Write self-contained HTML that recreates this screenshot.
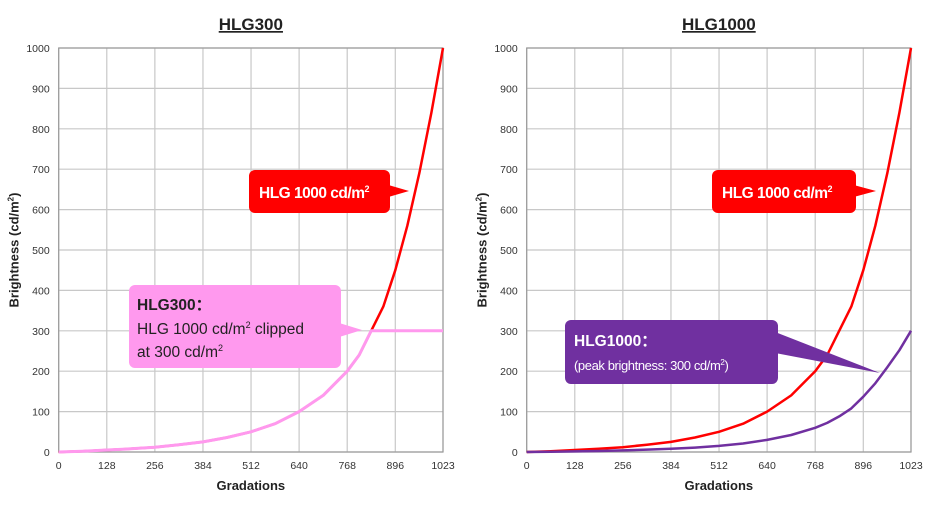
<!DOCTYPE html>
<html><head><meta charset="utf-8"><style>
body{margin:0;background:#fff}
svg{display:block;font-family:"Liberation Sans",Arial,sans-serif}
</style></head><body>
<svg id="c" width="940" height="505" viewBox="0 0 940 505"></svg>
<script>
const xTicks=[0,128,256,384,512,640,768,896,1023];
const yTicks=[0,100,200,300,400,500,600,700,800,900,1000];
const gradations=[0,64,128,192,256,320,384,448,512,576,640,704,768,800,832,864,896,928,960,992,1023];
const hlg1000=[0,2,5,8,12,18,25,36,50,70,100,140,200,240,300,360,450,560,690,840,1000];
const hlg1000Peak300=[0,0.7,1.5,2.5,4,6,8,11,15,21,30,42,60,72,88,108,137,170,210,252,300];
const clipLevel=300;
const NS='http://www.w3.org/2000/svg';
const svg=document.getElementById('c');
function el(t,a,p){const e=document.createElementNS(NS,t);for(const k in a)e.setAttribute(k,a[k]);(p||svg).appendChild(e);return e;}
function chart(x0,name,title){
  const x1=x0+384.3,yT=48,yB=452;
  const X=v=>x0+v/1023*(x1-x0), Y=v=>yB-v/1000*(yB-yT);
  const g=el('g',{});
  
  
  const t=el('text',{x:(x0+x1)/2,y:30,'text-anchor':'middle','font-size':17,'font-weight':'bold','text-decoration':'underline',fill:'#222'},g);
  t.textContent=title;
  
  
  xTicks.forEach(v=>{
    const l=el('line',{x1:X(v),x2:X(v),y1:yT,y2:yB,stroke:'#c8c8c8','stroke-width':1.2},g);
    
    
    const tx=el('text',{x:X(v),y:469,'text-anchor':'middle','font-size':10.5,fill:'#333'},g);
    tx.textContent=v;
    
    
  });
  yTicks.forEach(v=>{
    const l=el('line',{x1:x0,x2:x1,y1:Y(v),y2:Y(v),stroke:'#c8c8c8','stroke-width':1.2},g);
    
    
    const tx=el('text',{x:x0-9,y:Y(v)+4,'text-anchor':'end','font-size':10.5,fill:'#333'},g);
    tx.textContent=v;
    
    
  });
  const fr=el('rect',{x:x0,y:yT,width:x1-x0,height:yB-yT,fill:'none',stroke:'#999','stroke-width':1.2},g);
  
  
  const xl=el('text',{x:(x0+x1)/2,y:490,'text-anchor':'middle','font-size':13,'font-weight':'bold',fill:'#222'},g);
  xl.textContent='Gradations';
  
  
  const yl=el('text',{transform:`translate(${x0-40},250) rotate(-90)`,'text-anchor':'middle','font-size':13,'font-weight':'bold',fill:'#222'},g);
  yl.innerHTML='Brightness (cd/m<tspan font-size="8" dy="-5">2</tspan><tspan dy="5">)</tspan>';
  
  
  return {g,X,Y};
}
function line(g,X,Y,vals,color,name,w){
  const d=gradations.map((v,i)=>(i?'L':'M')+X(v).toFixed(1)+','+Y(vals[i]).toFixed(1)).join('');
  const p=el('path',{d,fill:'none',stroke:color,'stroke-width':w||2.5,'stroke-linejoin':'round'},g);
  
  
}
function callout(g,x,y,w,h,fill,ptr,name){
  const c=el('g',{},g);
  
  
  el('polygon',{points:ptr,fill},c);
  el('rect',{x,y,width:w,height:h,rx:6,fill},c);
  return c;
}
// left chart
const L=chart(58.7,'hlg300-chart','HLG300');
line(L.g,L.X,L.Y,hlg1000,'#ff0000','hlg1000-line');
line(L.g,L.X,L.Y,hlg1000.map(v=>Math.min(v,clipLevel)),'#ff99ee','hlg300-clipped-line',3);
let c=callout(L.g,249,170,141,43,'#ff0000','385,184 409,191 385,198','hlg1000-callout');
let t=el('text',{x:259,y:198,'font-size':15.5,'font-weight':'bold',fill:'#fff','letter-spacing':'-0.5'},c);
t.innerHTML='HLG 1000 cd/m<tspan font-size="9" dy="-6">2</tspan>';
c=callout(L.g,129,285,212,83,'#ff99ee','336,322 362,330 336,338','hlg300-callout');
t=el('text',{x:137,y:310,'font-size':15.5,'font-weight':'bold',fill:'#222'},c);t.textContent='HLG300：';
t=el('text',{x:137,y:334,'font-size':15.5,fill:'#222'},c);t.innerHTML='HLG 1000 cd/m<tspan font-size="9" dy="-6">2</tspan><tspan dy="6"> clipped</tspan>';
t=el('text',{x:137,y:357,'font-size':15.5,fill:'#222'},c);t.innerHTML='at 300 cd/m<tspan font-size="9" dy="-6">2</tspan>';
// right chart
const R=chart(526.7,'hlg1000-chart','HLG1000');
line(R.g,R.X,R.Y,hlg1000,'#ff0000','hlg1000-line');
line(R.g,R.X,R.Y,hlg1000Peak300,'#7030a0','hlg1000-peak300-line');
c=callout(R.g,712,170,144,43,'#ff0000','850,184 876,191 850,198','hlg1000-callout-right');
t=el('text',{x:722,y:198,'font-size':15.5,'font-weight':'bold',fill:'#fff','letter-spacing':'-0.5'},c);
t.innerHTML='HLG 1000 cd/m<tspan font-size="9" dy="-6">2</tspan>';
c=callout(R.g,565,320,213,64,'#7030a0','770,330 880,373 770,352','hlg1000-peak-callout');
t=el('text',{x:574,y:346,'font-size':15.5,'font-weight':'bold',fill:'#fff'},c);t.textContent='HLG1000：';
t=el('text',{x:574,y:370,'font-size':13,fill:'#fff','letter-spacing':'-0.4'},c);t.innerHTML='(peak brightness: 300 cd/m<tspan font-size="8" dy="-5">2</tspan><tspan dy="5">)</tspan>';
</script>
</body></html>
